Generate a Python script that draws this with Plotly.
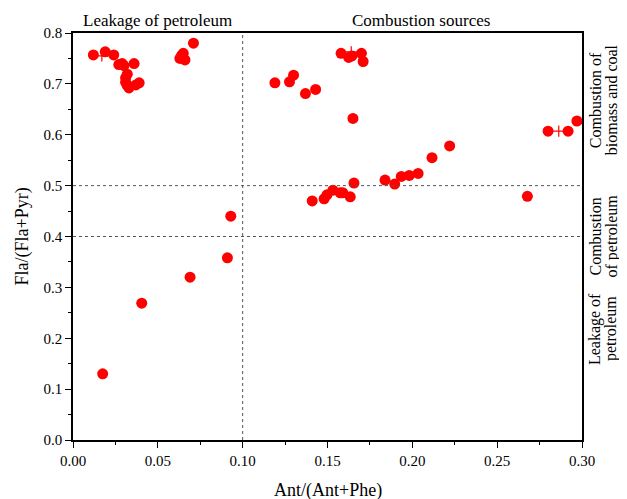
import plotly.graph_objects as go

# Data: Ant/(Ant+Phe) vs Fla/(Fla+Pyr)
ant_ratio = [
    0.012, 0.019, 0.024, 0.027, 0.029, 0.030, 0.036, 0.032, 0.031, 0.039, 0.037, 0.032, 0.033, 0.031,
    0.071, 0.065, 0.063, 0.066, 0.064,
    0.0175, 0.0405, 0.069, 0.091, 0.093,
    0.119, 0.1276, 0.130, 0.137, 0.143,
    0.158, 0.1625, 0.1644, 0.170, 0.171, 0.165,
    0.141, 0.148, 0.1497, 0.1532, 0.1575, 0.159, 0.1634, 0.1656,
    0.1839, 0.1896, 0.1935, 0.1982, 0.2034, 0.2116, 0.222,
    0.2678, 0.280, 0.2918, 0.297,
]
fla_ratio = [
    0.757, 0.763, 0.757, 0.738, 0.740, 0.736, 0.740, 0.719, 0.712, 0.702, 0.698, 0.697, 0.692, 0.703,
    0.780, 0.760, 0.750, 0.747, 0.756,
    0.130, 0.269, 0.320, 0.358, 0.440,
    0.702, 0.704, 0.717, 0.681, 0.689,
    0.760, 0.752, 0.755, 0.760, 0.744, 0.632,
    0.470, 0.474, 0.482, 0.491, 0.486, 0.486, 0.478, 0.505,
    0.511, 0.503, 0.518, 0.520, 0.524, 0.555, 0.578,
    0.479, 0.607, 0.607, 0.627,
]
# small "+" marks
plus_x = [0.017, 0.164, 0.2863]
plus_y = [0.755, 0.763, 0.607]

x_ticks = [0.00, 0.05, 0.10, 0.15, 0.20, 0.25, 0.30]
y_ticks = [0.0, 0.1, 0.2, 0.3, 0.4, 0.5, 0.6, 0.7, 0.8]

# right-side zone labels: (line1, line2, centre y)
zone_labels = [
    ("Combustion of", "biomass and coal", 0.668),
    ("Combustion", "of petroleum", 0.40),
    ("Leakage of", "petroleum", 0.218),
]

FONT = "Liberation Serif"

fig = go.Figure()
fig.add_trace(go.Scatter(
    x=ant_ratio, y=fla_ratio, mode="markers",
    marker=dict(color="#FF0000", size=11, line=dict(width=0)),
    showlegend=False, hoverinfo="x+y"))
fig.add_trace(go.Scatter(
    x=plus_x, y=plus_y, mode="markers",
    marker=dict(symbol="cross-thin", color="#FF0000", size=8, line=dict(color="#FF0000", width=1.2)),
    showlegend=False))

# reference lines
line_style = dict(color="#555555", width=1, dash="dot")
fig.add_shape(type="line", x0=0.1, x1=0.1, y0=0, y1=0.8, xref="x", yref="y", line=line_style)
fig.add_shape(type="line", x0=0, x1=0.3, y0=0.4, y1=0.4, xref="x", yref="y", line=line_style)
fig.add_shape(type="line", x0=0, x1=0.3, y0=0.5, y1=0.5, xref="x", yref="y", line=line_style)

axis_common = dict(
    showgrid=False, zeroline=False, showline=True, linecolor="black", linewidth=1.5,
    mirror=True, ticks="outside", ticklen=6, tickwidth=1.2, tickcolor="black",
    tickfont=dict(family=FONT, size=15, color="black"),
)
fig.update_xaxes(range=[0, 0.3], tickvals=x_ticks, tickformat=".2f",
                 minor=dict(ticks="outside", ticklen=3, tickwidth=1, tickcolor="black", dtick=0.025, tick0=0),
                 **axis_common)
fig.update_yaxes(range=[0, 0.8], tickvals=y_ticks, tickformat=".1f",
                 minor=dict(ticks="outside", ticklen=3, tickwidth=1, tickcolor="black", dtick=0.05, tick0=0),
                 **axis_common)

fig.update_layout(
    width=619, height=491,
    margin=dict(l=65, r=45, t=25, b=59),
    plot_bgcolor="white", paper_bgcolor="white",
    font=dict(family=FONT, color="black"),
)
ann_font = dict(family=FONT, size=17, color="black")
fig.add_annotation(text="Leakage of petroleum", x=0.05, y=1, xref="x", yref="paper",
                   yanchor="bottom", yshift=1, showarrow=False, font=ann_font)
fig.add_annotation(text="Combustion sources", x=0.205, y=1, xref="x", yref="paper",
                   yanchor="bottom", yshift=1, showarrow=False, font=ann_font)
title_font = dict(family=FONT, size=18, color="black")
fig.add_annotation(text="Fla/(Fla+Pyr)", x=0, y=0.5, xref="paper", yref="paper",
                   xanchor="center", xshift=-51, textangle=-90, showarrow=False, font=title_font)
fig.add_annotation(text="Ant/(Ant+Phe)", x=0.5, y=0, xref="paper", yref="paper",
                   yanchor="middle", yshift=-50, showarrow=False, font=title_font)
right_font = dict(family=FONT, size=16, color="black")
for line1, line2, yc in zone_labels:
    fig.add_annotation(text=line1, x=1, y=yc, xref="paper", yref="y",
                       xanchor="center", yanchor="middle", xshift=13, textangle=-90,
                       showarrow=False, font=right_font)
    fig.add_annotation(text=line2, x=1, y=yc, xref="paper", yref="y",
                       xanchor="center", yanchor="middle", xshift=29, textangle=-90,
                       showarrow=False, font=right_font)

fig.write_html("out.html")
